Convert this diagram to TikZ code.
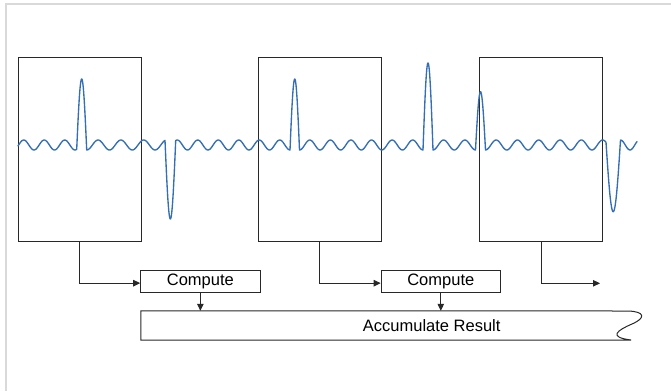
\documentclass[tikz,border=0pt]{standalone}
\usepackage{fontspec}
\setmainfont{Liberation Sans}
\usetikzlibrary{arrows.meta}
\definecolor{wavecol}{RGB}{52,110,180}
\definecolor{framecol}{RGB}{217,217,217}
\definecolor{linecol}{RGB}{40,40,40}
\begin{document}
\begin{tikzpicture}[x=1pt,y=-1pt,
  every node/.style={font=\fontsize{16.5}{18}\selectfont},
  sigbox/.style={draw=linecol,line width=1pt,minimum width=123pt,minimum height=184.5pt,inner sep=0pt},
  compbox/.style={draw=linecol,line width=1pt,minimum width=119.3pt,minimum height=22.3pt,inner sep=0pt},
  conn/.style={draw=linecol,line width=1pt,-{Triangle[length=7pt,width=6.5pt]}},
  wave/.style={draw=wavecol,line width=1.35pt,line join=round,line cap=round},
  framestyle/.style={draw=framecol,line width=2.3pt}]
\useasboundingbox (0,0) rectangle (671,391);
% frame
\draw[framestyle] (671,3.8) -- (6.2,3.8) -- (6.2,391);
% signal boxes
\node[sigbox] (b1) at (79.5,149.25) {};
\node[sigbox] (b2) at (319.5,149.25) {};
\node[sigbox] (b3) at (541,149.25) {};
% waveform
\draw[wave]
  plot[domain=18:76.7,samples=60] (\x,{145+5*cos(17.561*(\x-75))})
  -- plot[domain=76.7:86.7,samples=31] (\x,{149.34+0.066*(\x-76.7)-70.7*sin(18*(\x-76.7))})
  -- plot[domain=86.7:165,samples=80] (\x,{145+5*cos(15.789*(\x-86.7))})
  -- plot[domain=165:175.7,samples=31] (\x,{140.42+0.012*(\x-165)+78.5*sin(16.822*(\x-165))})
  -- plot[domain=175.7:290,samples=115] (\x,{145+5*cos(17.561*(\x-290))})
  -- plot[domain=290:299.5,samples=31] (\x,{150-71*sin(18.947*(\x-290))})
  -- plot[domain=299.5:423,samples=125] (\x,{145+5*cos(17.490*(\x-299.5))})
  -- plot[domain=423:433,samples=31] (\x,{150-87*sin(18*(\x-423))})
  -- plot[domain=433:475.5,samples=44] (\x,{145+5*cos(16.941*(\x-433))})
  -- plot[domain=475.5:485.5,samples=31] (\x,{150-58.3*sin(18*(\x-475.5))})
  -- plot[domain=485.5:606,samples=121] (\x,{145+5*cos(16.901*(\x-485.5))})
  -- plot[domain=606:620.5,samples=35] (\x,{142.25-0.155*(\x-606)+70.6*sin(12.414*(\x-606))})
  -- plot[domain=620.5:637,samples=18] (\x,{145+5*cos(18.947*(\x-630))});
% compute boxes
\node[compbox] (c1) at (200.35,281.15) {Compute};
\node[compbox] (c2) at (440.8,281.15) {Compute};
% accumulate result
\node[minimum width=489pt,minimum height=29pt,inner sep=0pt] (acc) at (385.5,325.5) {};
\draw[draw=linecol,line width=1pt] (acc.north west) -- (628,311)
  .. controls (645,311.5) and (646,318) .. (632,324)
  .. controls (618,330) and (607,337) .. (631,340)
  -- (acc.south west) -- cycle;
\node (acctext) at (431.7,326) {Accumulate Result};
% connectors
\coordinate (e3) at (600,283.3);
\draw[conn] (b1.south) |- ([yshift=-2pt]c1.west);
\draw[conn] (b2.south) |- ([yshift=-2pt]c2.west);
\draw[conn] (b3.south) |- (e3);
\draw[conn] (c1.south) -- (c1.south |- acc.north);
\draw[conn] (c2.south) -- (c2.south |- acc.north);
\end{tikzpicture}
\end{document}
